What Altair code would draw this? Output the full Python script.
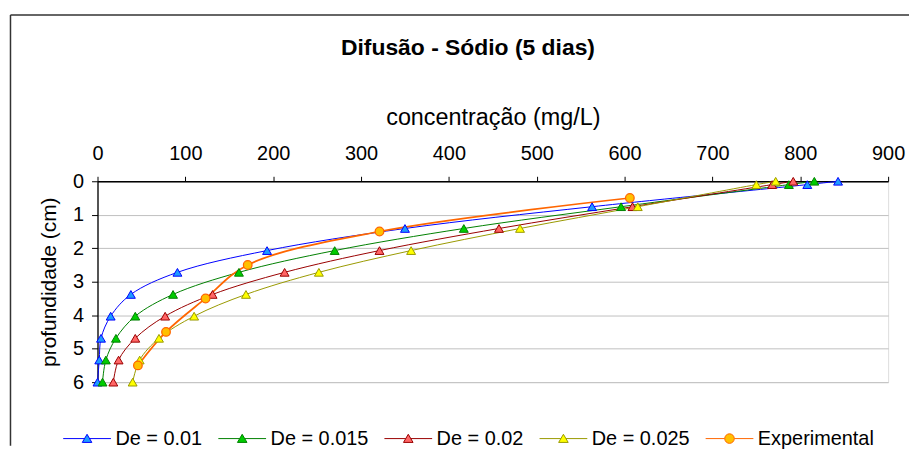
import altair as alt
import pandas as pd

# ---- data ----
depth = [0, 0.1, 0.76, 1.41, 2.07, 2.72, 3.38, 4.03, 4.69, 5.34, 6.0]
de_001 = [843, 808, 563, 350, 193, 91, 38, 15, 4, 2, 0]
de_0015 = [816, 787, 596, 417, 270, 161, 86, 43, 21, 9.5, 5.7]
de_002 = [792, 768, 609, 457, 321, 213, 131, 77, 43, 24, 18]
de_0025 = [772, 750, 615, 481, 357, 252, 169, 110, 70, 48, 40]
exp_depth = [0.5, 1.5, 2.5, 3.5, 4.5, 5.5]
exp_conc = [606, 321, 171, 123, 78, 46]

series_names = ["De = 0.01", "De = 0.015", "De = 0.02", "De = 0.025", "Experimental"]
line_colors = ["#0000FF", "#008000", "#990000", "#999900", "#FF6600"]
marker_fills = ["#1E9BFF", "#00CC00", "#FF6666", "#FFFF00", "#FFC000"]
x_ticks = [0, 100, 200, 300, 400, 500, 600, 700, 800, 900]
y_ticks = [0, 1, 2, 3, 4, 5, 6]

rows = []
for name, vals in zip(series_names[:4], [de_001, de_0015, de_002, de_0025]):
    for d, v in zip(depth, vals):
        rows.append({"serie": name, "depth": d, "conc": v})
for d, v in zip(exp_depth, exp_conc):
    rows.append({"serie": "Experimental", "depth": d, "conc": v})
df = pd.DataFrame(rows)

FONT = "Liberation Sans"

tri_path = "M-1,0H-0.106M0.106,0H1M0,-0.18L0.2,0.16L-0.2,0.16Z"
circ_path = "M-1,0H-0.2M0.2,0H1M-0.2,0A0.2,0.2 0 1,1 0.2,0A0.2,0.2 0 1,1 -0.2,0Z"
legend_shapes = [tri_path, tri_path, tri_path, tri_path, circ_path]

x_enc = alt.X(
    "conc:Q",
    scale=alt.Scale(domain=[0, 900], nice=False, zero=False),
    axis=alt.Axis(
        orient="top", values=x_ticks, grid=False, title="concentração (mg/L)",
        labelFont=FONT, labelFontSize=20, labelColor="black", labelPadding=13,
        titleFont=FONT, titleFontSize=23.5, titleFontWeight="normal", titleColor="black",
        titlePadding=14, domainColor="black", domainWidth=1.3, tickColor="black",
        tickSize=5, tickWidth=1, labelFlush=False,
    ),
)
y_enc = alt.Y(
    "depth:Q",
    scale=alt.Scale(domain=[0, 6], reverse=True, nice=False, zero=False),
    axis=alt.Axis(
        values=y_ticks, grid=True, gridColor="#C0C0C0", gridWidth=1,
        title="profundidade (cm)",
        labelFont=FONT, labelFontSize=20, labelColor="black", labelPadding=8,
        titleFont=FONT, titleFontSize=21, titleFontWeight="normal", titleColor="black",
        titlePadding=13, domainColor="black", domainWidth=1.3, tickColor="black",
        tickSize=6, tickWidth=1, labelFlush=False,
    ),
)

stroke_scale = alt.Scale(domain=series_names, range=line_colors)
fill_scale = alt.Scale(domain=series_names, range=marker_fills)
shape_scale = alt.Scale(domain=series_names, range=legend_shapes)

leg = alt.Legend(
    title=None, orient="none", legendX=-35, legendY=234, direction="horizontal",
    labelFont=FONT, labelFontSize=20, labelColor="black", labelOffset=4,
    columnPadding=13, symbolSize=2304, symbolStrokeWidth=1, padding=0,
)

base = alt.Chart(df)

lines = base.mark_line(interpolate="catmull-rom").encode(
    x=x_enc, y=y_enc,
    stroke=alt.Stroke("serie:N", scale=stroke_scale, legend=None),
    order=alt.Order("depth:Q"),
    strokeWidth=alt.condition(alt.datum.serie == "Experimental", alt.value(1.75), alt.value(1)),
)

tris = base.transform_filter(alt.datum.serie != "Experimental").mark_point(
    shape="triangle-up", filled=True, size=80, opacity=1, strokeWidth=1
).encode(
    x=x_enc, y=y_enc,
    fill=alt.Fill("serie:N", scale=fill_scale, legend=None),
    stroke=alt.Stroke("serie:N", scale=stroke_scale, legend=None),
)

circs = base.transform_filter(alt.datum.serie == "Experimental").mark_point(
    shape="circle", filled=True, size=75, opacity=1, strokeWidth=1.25
).encode(
    x=x_enc, y=y_enc,
    fill=alt.Fill("serie:N", scale=fill_scale, legend=None),
    stroke=alt.Stroke("serie:N", scale=stroke_scale, legend=None),
)

# legend-only layer: zero-size symbols, the legend carries the visible symbols
legend_layer = base.mark_point(filled=True, opacity=1, strokeWidth=1, size=0).encode(
    x=x_enc, y=y_enc,
    fill=alt.Fill("serie:N", scale=fill_scale, legend=leg),
    stroke=alt.Stroke("serie:N", scale=stroke_scale, legend=leg),
    shape=alt.Shape("serie:N", scale=shape_scale, legend=leg),
)

one = alt.Data(values=[{"k": 1}])
border_v = alt.Chart(one).mark_rule(color="#333333", strokeWidth=1.5).encode(
    x=alt.value(-87.5), y=alt.value(-167.25), y2=alt.value(266)
)
border_h = alt.Chart(one).mark_rule(color="#333333", strokeWidth=1.5).encode(
    y=alt.value(-167.25), x=alt.value(-87.5), x2=alt.value(816)
)

chart = alt.layer(border_v, border_h, legend_layer, lines, tris, circs).properties(
    width=795, height=202,
    padding={"left": 1, "top": 5, "right": 0, "bottom": 0},
    title=alt.Title(
        "Difusão - Sódio (5 dias)", font=FONT, fontSize=23, fontWeight="bold",
        color="black", anchor="middle", frame="group", dx=-25, offset=-46,
    ),
).configure_view(stroke="#808080", strokeWidth=1.5).configure(font=FONT)

chart.save("out.html", embed_options={"renderer": "svg", "actions": False})
